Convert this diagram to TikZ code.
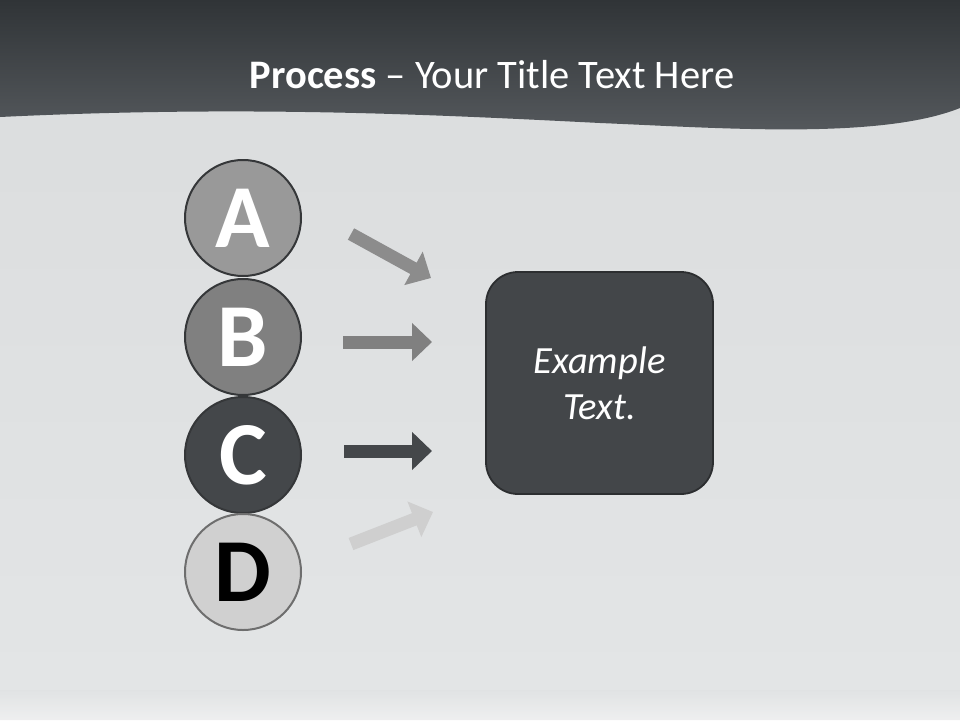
\documentclass[tikz,border=0pt]{standalone}
\usepackage{fontspec}
\setmainfont{Carlito}
\usetikzlibrary{arrows.meta}
\definecolor{bgtop}{HTML}{DADCDD}
\definecolor{bgmid}{HTML}{E3E5E6}
\definecolor{bgbot}{HTML}{DCDEDF}
\definecolor{hdtop}{HTML}{303437}
\definecolor{hdbot}{HTML}{575B5F}
\definecolor{circA}{HTML}{999999}
\definecolor{circB}{HTML}{808080}
\definecolor{circC}{HTML}{44474A}
\definecolor{circD}{HTML}{D0D0D0}
\definecolor{rimdark}{HTML}{353739}
\definecolor{rimlight}{HTML}{6E6E6E}
\definecolor{arrA}{HTML}{8C8C8C}
\definecolor{arrB}{HTML}{808080}
\definecolor{arrC}{HTML}{44474A}
\definecolor{arrD}{HTML}{CFCFCF}
\definecolor{boxfill}{HTML}{434649}
\definecolor{boxrim}{HTML}{2C2E30}
\tikzset{
  letter/.style={circle, minimum size=116pt, inner sep=0pt, line width=2pt,
    font=\fontsize{90}{90}\selectfont\bfseries},
  fatarrow/.style={line width=13pt, -{Triangle[length=20pt,width=37pt]}},
}
\begin{document}
\begin{tikzpicture}[x=1pt,y=-1pt]
\useasboundingbox (0,0) rectangle (960,720);
% background
\shade[top color=bgtop, bottom color=bgmid] (0,0) rectangle (960,690);
\fill[bgbot] (0,690) rectangle (960,720);
\shade[top color=bgmid, bottom color=white!85!bgmid, opacity=0.6] (0,688) rectangle (960,720);
% header
\shade[top color=hdtop, bottom color=hdbot]
  (0,0) -- (960,0) -- (960,108)
  .. controls (880,140) and (720,128) .. (600,123)
  .. controls (440,115) and (250,105) .. (0,117) -- cycle;
\node[text=white, font=\fontsize{40.5}{40.5}\selectfont, anchor=base] (title) at (492,88)
  {\textbf{Process} – Your Title Text Here};
% circles
\node[letter, fill=circA, draw=rimdark, text=white] (A) at (243,218) {A};
\node[letter, fill=circB, draw=rimdark, text=white] (B) at (243,337) {B};
\node[letter, fill=circC, draw=rimdark, text=white] (C) at (243,455) {C};
\node[letter, fill=circD, draw=rimlight, text=black] (D) at (243,572) {D};
% arrow end points
\coordinate (a1) at (351,234); \coordinate (a2) at (431,278);
\coordinate (b1) at (343,342); \coordinate (b2) at (432,342);
\coordinate (c1) at (344,451); \coordinate (c2) at (432,451);
\coordinate (d1) at (351,544); \coordinate (d2) at (433,512);
\draw[fatarrow, draw=arrA, fill=arrA] (a1) -- (a2);
\draw[fatarrow, draw=arrB, fill=arrB] (b1) -- (b2);
\draw[fatarrow, draw=arrC, fill=arrC] (c1) -- (c2);
\draw[fatarrow, draw=arrD, fill=arrD] (d1) -- (d2);
% box
\node[draw=boxrim, line width=1.8pt, fill=boxfill, rounded corners=32pt,
  minimum width=227pt, minimum height=222pt, text=white, align=center,
  font=\fontsize{38.5}{46}\selectfont\itshape] (box) at (599.5,383)
  {Example\\Text.};
\end{tikzpicture}
\end{document}
